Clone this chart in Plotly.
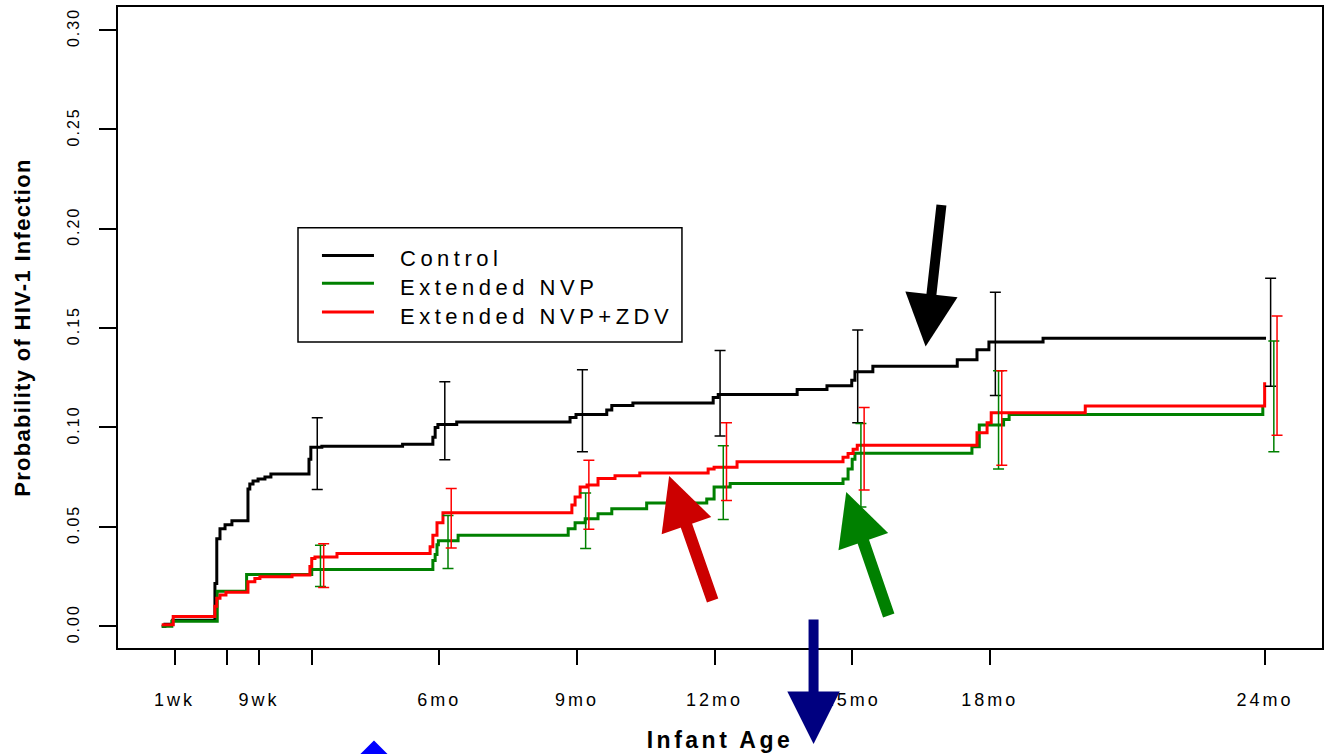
import plotly.graph_objects as go

# ---------------- data (time in months, cumulative probability) ----------------
ctrl_t = [-0.05, 0.02, 0.19, 1.11, 1.15, 1.22, 1.33, 1.48, 1.83, 1.87,
          1.94, 2.05, 2.20, 2.33, 3.16, 3.20, 3.44, 5.20, 5.86, 5.91,
          5.97, 6.38, 8.85, 8.98, 9.65, 9.76, 10.22, 11.97, 12.08, 13.80,
          14.45, 14.99, 15.06, 15.45, 17.29, 17.72, 17.98, 19.16, 24.02]
ctrl_p = [0.000, 0.001, 0.003, 0.0215, 0.044, 0.049, 0.051, 0.053, 0.069, 0.0715,
          0.073, 0.074, 0.075, 0.0765, 0.084, 0.090, 0.0905, 0.0915, 0.095, 0.100,
          0.1015, 0.1027, 0.105, 0.1065, 0.1087, 0.111, 0.1123, 0.115, 0.1165, 0.119,
          0.121, 0.1237, 0.128, 0.1307, 0.134, 0.139, 0.143, 0.1448, 0.1448]

nvp_t = [-0.05, 0.17, 1.16, 1.80, 3.22, 5.86, 5.91, 5.95, 5.98, 6.41,
         8.81, 8.96, 9.18, 9.46, 9.76, 10.52, 11.83, 11.99, 12.34,
         14.80, 14.91, 15.00, 15.06, 17.61, 17.77, 18.30, 18.42, 23.95, 23.98]
nvp_p = [0.000, 0.0025, 0.0175, 0.026, 0.0285, 0.033, 0.036, 0.041, 0.043, 0.0457,
         0.049, 0.052, 0.054, 0.0565, 0.059, 0.062, 0.064, 0.070, 0.0718,
         0.074, 0.079, 0.084, 0.087, 0.0903, 0.1012, 0.104, 0.1065, 0.110, 0.110]

zdv_t = [-0.05, 0.20, 1.11, 1.15, 1.22, 1.35, 1.83, 1.98, 2.09, 2.79,
         3.18, 3.22, 3.29, 3.77, 5.80, 5.86, 5.95, 6.08, 8.89, 8.96,
         9.07, 9.22, 9.46, 9.83, 10.37, 11.86, 11.99, 12.49, 14.80, 14.91,
         15.02, 15.11, 17.72, 17.94, 18.03, 20.08, 23.99]
zdv_p = [0.0007, 0.0048, 0.010, 0.014, 0.0157, 0.017, 0.0223, 0.024, 0.0248, 0.0257,
         0.030, 0.034, 0.0348, 0.0365, 0.040, 0.0457, 0.052, 0.057, 0.061, 0.065,
         0.070, 0.071, 0.0743, 0.0757, 0.077, 0.079, 0.080, 0.0827, 0.085, 0.0868,
         0.089, 0.091, 0.0973, 0.1023, 0.1073, 0.1107, 0.1227]

# confidence intervals at selected ages
ci_t = [3.22, 6, 9, 12, 15, 18, 24]
ctrl_lo = [0.0687, 0.0837, 0.0877, 0.0957, 0.1023, 0.116, 0.1207]
ctrl_hi = [0.1048, 0.123, 0.129, 0.1387, 0.149, 0.168, 0.175]
nvp_lo = [0.020, 0.029, 0.039, 0.0537, 0.060, 0.079, 0.0877]
nvp_hi = [0.0407, 0.0557, 0.067, 0.0907, 0.102, 0.1285, 0.1435]
zdv_lo = [0.0195, 0.0393, 0.0487, 0.0632, 0.0685, 0.081, 0.096]
zdv_hi = [0.0415, 0.0693, 0.0835, 0.1023, 0.110, 0.1285, 0.156]

# axis ticks
x_tick_vals = [0.23, 1.38, 2.07, 3.22, 6, 9, 12, 15, 18, 24]
x_tick_labels = ["1wk", "", "9wk", "", "6mo", "9mo", "12mo", "15mo", "18mo", "24mo"]
y_tick_vals = [0.00, 0.05, 0.10, 0.15, 0.20, 0.25, 0.30]
y_tick_labels = ["0.00", "0.05", "0.10", "0.15", "0.20", "0.25", "0.30"]

series_names = ["Control", "Extended NVP", "Extended NVP+ZDV"]

# ---------------- styling ----------------
FONT = "Liberation Sans, Arial, sans-serif"
colors = ["#000000", "#008000", "#FF0000"]
ci_offset = [0.12, 0.19, 0.26]


def spaced(txt, px):
    return f'<span style="letter-spacing:{px}px">{txt}</span>' if txt else ""


fig = go.Figure()

curves = [(ctrl_t, ctrl_p), (nvp_t, nvp_p), (zdv_t, zdv_p)]
cis = [(ctrl_lo, ctrl_hi), (nvp_lo, nvp_hi), (zdv_lo, zdv_hi)]

for i, (t, p) in enumerate(curves):
    fig.add_trace(go.Scatter(
        x=t, y=p, mode="lines", line=dict(color=colors[i], width=3, shape="hv"),
        name=series_names[i], showlegend=False, hoverinfo="skip"))

for i, (lo, hi) in enumerate(cis):
    mid = [(a + b) / 2 for a, b in zip(lo, hi)]
    half = [(b - a) / 2 for a, b in zip(lo, hi)]
    fig.add_trace(go.Scatter(
        x=[t + ci_offset[i] for t in ci_t], y=mid, mode="markers",
        marker=dict(size=1, opacity=0, color=colors[i]),
        error_y=dict(type="data", array=half, symmetric=True,
                     color=colors[i], thickness=1.5, width=5.5),
        name=series_names[i] + " 95% CI", showlegend=False, hoverinfo="skip"))

# ---------------- legend box (paper coordinates) ----------------
leg_box = dict(x0=0.1495, x1=0.4684, y0=0.4775, y1=0.6558)
leg_line_x = (0.1694, 0.2126)
leg_line_y = [0.6124, 0.5690, 0.5240]
leg_text_x = 0.2326
leg_text_y = [0.6078, 0.5628, 0.5178]

fig.add_shape(type="rect", xref="paper", yref="paper", **leg_box,
              line=dict(color="black", width=1.5), fillcolor="white", layer="above")
for i, name in enumerate(series_names):
    fig.add_shape(type="line", xref="paper", yref="paper",
                  x0=leg_line_x[0], x1=leg_line_x[1], y0=leg_line_y[i], y1=leg_line_y[i],
                  line=dict(color=colors[i], width=3), layer="above")
    fig.add_annotation(xref="paper", yref="paper", x=leg_text_x, y=leg_text_y[i],
                       xanchor="left", yanchor="middle", showarrow=False,
                       text=spaced(name, 4.5),
                       font=dict(size=22, family=FONT, color="black"))

# ---------------- annotation arrows ----------------
# tip (x, y) in data units, tail offset (ax, ay) px, colour, shaft width, head size, head style
data_arrows = [
    (16.60, 0.1407, 16, -143, "#000000", 10, 1.05, 2),
    (11.01, 0.0755, 44, 126, "#CC0000", 12, 0.875, 2),
    (14.87, 0.0675, 43, 125, "#008000", 12, 0.875, 2),
]
for (x, y, ax, ay, col, w, s, h) in data_arrows:
    fig.add_annotation(x=x, y=y, xref="x", yref="y", ax=ax, ay=ay, text="",
                       showarrow=True, arrowhead=h, arrowcolor=col,
                       arrowwidth=w, arrowsize=s, standoff=0)

# arrows below the axis (paper units, outside the plotting area)
paper_arrows = [
    (0.5777, -0.1496, 0, -126, "#000080", 10, 1.05, 2),
    (0.2126, -0.1442, 0, 120, "#0000FF", 10, 1.6, 1),
]
for (x, y, ax, ay, col, w, s, h) in paper_arrows:
    fig.add_annotation(x=x, y=y, xref="paper", yref="paper", ax=ax, ay=ay, text="",
                       showarrow=True, arrowhead=h, arrowcolor=col,
                       arrowwidth=w, arrowsize=s, standoff=0)

fig.update_layout(
    width=1342, height=754,
    margin=dict(l=118, r=20, t=5, b=104),
    paper_bgcolor="white", plot_bgcolor="white",
    font=dict(family=FONT, color="black"),
    showlegend=False,
    xaxis=dict(range=[-1.003, 25.24], showgrid=False, zeroline=False,
               showline=True, mirror=True, linecolor="black", linewidth=2,
               ticks="outside", ticklen=15, tickwidth=1.5, tickcolor="black",
               tickvals=x_tick_vals, ticktext=[spaced(s, 3) for s in x_tick_labels],
               tickfont=dict(size=18, family=FONT, color="black"),
               ticklabelstandoff=19,
               title=dict(text=spaced("<b>Infant Age</b>", 3.5),
                          font=dict(size=23, family=FONT, color="black"),
                          standoff=23)),
    yaxis=dict(range=[-0.011, 0.3115], showgrid=False, zeroline=False,
               showline=True, mirror=True, linecolor="black", linewidth=2,
               ticks="outside", ticklen=17, tickwidth=1.5, tickcolor="black",
               tickvals=y_tick_vals, ticktext=[spaced(s, 2) for s in y_tick_labels],
               tickangle=-90,
               tickfont=dict(size=16, family=FONT, color="black"),
               ticklabelstandoff=14,
               title=dict(text=spaced("<b>Probability of HIV-1 Infection</b>", 1.3),
                          font=dict(size=22, family=FONT, color="black"),
                          standoff=28)),
)

fig.write_html(
    "out.html",
    config={"displayModeBar": False},
    post_script="document.body.style.margin='0';document.body.style.padding='0';"
                "document.body.style.overflow='hidden';",
)
